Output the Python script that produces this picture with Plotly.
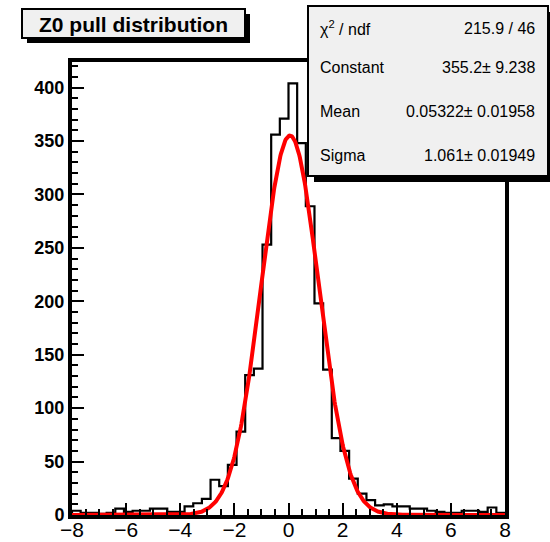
import numpy as np
import plotly.graph_objects as go

# ---- data ----
x_min, x_max, n_bins = -8.0, 8.0, 50
counts = [4, 2, 2, 1, 2, 6, 3, 4, 4, 6,
          6, 3, 3, 8, 11, 15, 33, 27, 47, 78,
          131, 137, 253, 356, 371, 404, 348, 289, 198, 136,
          72, 60, 34, 20, 14, 9, 10, 8, 8, 6,
          6, 4, 3, 2, 2, 4, 4, 3, 7, 2]
fit_constant, fit_mean, fit_sigma = 355.2, 0.05322, 1.061
title_text = "Z0 pull distribution"
stats_labels = ["χ<sup>2</sup> / ndf", "Constant", "Mean", "Sigma"]
stats_values = ["215.9 / 46", "355.2± 9.238", "0.05322± 0.01958", "1.061± 0.01949"]
x_ticks = [-8, -6, -4, -2, 0, 2, 4, 6, 8]
y_ticks = [0, 50, 100, 150, 200, 250, 300, 350, 400]
y_max = 424

# ---- geometry ----
W, H = 550, 542
L, R, T, B = 72, 505, 62, 515
def px(x):
    return (x - L) / (R - L)
def py(y):
    return (B - y) / (B - T)

edges = np.linspace(x_min, x_max, n_bins + 1)
hx = [edges[0]] + list(edges[:-1]) + [edges[-1], edges[-1]]
hy = [0] + list(counts) + [counts[-1], 0]

xf = np.linspace(x_min, x_max, 801)
yf = fit_constant * np.exp(-0.5 * ((xf - fit_mean) / fit_sigma) ** 2)

fig = go.Figure()
fig.add_trace(go.Scatter(x=hx, y=hy, mode="lines", line=dict(color="black", width=2.2, shape="hv"),
                         hoverinfo="skip", showlegend=False))
fig.add_trace(go.Scatter(x=xf, y=yf, mode="lines", line=dict(color="#ff0000", width=4),
                         hoverinfo="skip", showlegend=False))

font = "Liberation Sans, Arial, Helvetica, sans-serif"
fig.update_layout(
    width=W, height=H, autosize=False,
    margin=dict(l=L, r=W - R, t=T, b=H - B, pad=0, autoexpand=False),
    paper_bgcolor="white", plot_bgcolor="white",
    showlegend=False,
    xaxis=dict(range=[x_min, x_max], tickvals=x_ticks, ticks="inside", ticklen=12, tickwidth=2,
               tickcolor="black", showgrid=False, zeroline=False, showline=True, linewidth=4,
               linecolor="black", mirror=True, automargin=False, ticklabelstandoff=-7,
               tickfont=dict(family=font, size=21, color="black"),
               minor=dict(dtick=0.5, ticks="inside", ticklen=6, tickwidth=2, tickcolor="black")),
    yaxis=dict(range=[0, y_max], tickvals=y_ticks, ticks="inside", ticklen=12, tickwidth=2,
               tickcolor="black", showgrid=False, zeroline=False, showline=True, linewidth=4,
               linecolor="black", mirror=True, automargin=False,
               tickfont=dict(family=font, size=18, color="black", weight="bold"),
               minor=dict(dtick=10, ticks="inside", ticklen=6, tickwidth=2, tickcolor="black")),
)

shapes = []
# title box shadow + box
shapes.append(dict(type="rect", xref="paper", yref="paper", x0=px(27), x1=px(250), y0=py(43), y1=py(14),
                   fillcolor="black", line=dict(width=0)))
shapes.append(dict(type="rect", xref="paper", yref="paper", x0=px(22), x1=px(245), y0=py(38), y1=py(9),
                   fillcolor="#f0f0f0", line=dict(color="black", width=2)))
# stats box shadow + box
shapes.append(dict(type="rect", xref="paper", yref="paper", x0=px(314), x1=px(556), y0=py(182), y1=py(12),
                   fillcolor="black", line=dict(width=0)))
shapes.append(dict(type="rect", xref="paper", yref="paper", x0=px(308), x1=px(548), y0=py(176), y1=py(6),
                   fillcolor="#f0f0f0", line=dict(color="black", width=2)))
fig.update_layout(shapes=shapes)

ann = []
ann.append(dict(xref="paper", yref="paper", x=px(133), y=py(24), text="<b>" + title_text + "</b>",
                showarrow=False, xanchor="center", yanchor="middle",
                font=dict(family=font, size=21, color="black")))
row_y = [28, 68, 111, 155]
for lab, val, ry in zip(stats_labels, stats_values, row_y):
    ann.append(dict(xref="paper", yref="paper", x=px(318), y=py(ry), text=lab, showarrow=False,
                    xanchor="left", yanchor="middle", font=dict(family=font, size=16, color="black")))
    ann.append(dict(xref="paper", yref="paper", x=px(537), y=py(ry), text=val, showarrow=False,
                    xanchor="right", yanchor="middle", font=dict(family=font, size=16, color="black")))
fig.update_layout(annotations=ann)

fig.write_html("out.html", config={"displayModeBar": False},
               post_script="document.body.style.margin='0px';document.body.style.overflow='hidden';")
